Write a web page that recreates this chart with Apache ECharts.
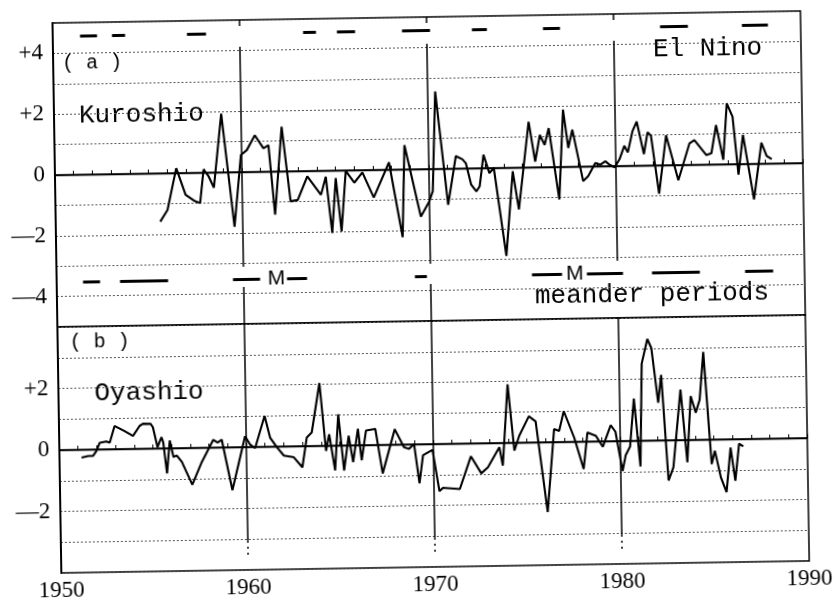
<!DOCTYPE html>
<html><head><meta charset="utf-8">
<script src="https://cdn.jsdelivr.net/npm/echarts@6/dist/echarts.min.js"></script>
<style>html,body{margin:0;padding:0;background:#fff;overflow:hidden}#c{width:836px;height:604px;transform:rotate(-0.92deg);transform-origin:430px 300px}</style>
</head><body><div id="c"></div>
<script>
// ---- data ----
const kuroshio = [
 [1955.59,-1.59],[1955.99,-1.21],[1956.49,0.16],[1956.97,-0.72],[1957.42,-0.92],[1957.74,-1.0],
 [1957.95,0.1],[1958.22,-0.13],[1958.49,-0.5],[1958.94,1.93],[1959.56,-1.8],[1959.96,0.56],
 [1960.28,0.72],[1960.72,1.2],[1961.17,0.77],[1961.44,0.87],[1961.74,-1.42],[1962.16,1.47],
 [1962.58,-0.99],[1962.96,-0.95],[1963.49,-0.18],[1964.21,-0.79],[1964.48,-0.2],[1964.78,-2.05],
 [1965.01,-0.25],[1965.28,-2.0],[1965.55,-0.02],[1966.0,-0.41],[1966.44,-0.08],[1967.03,-0.91],
 [1967.87,0.24],[1968.54,-2.23],[1968.71,0.8],[1969.53,-1.56],[1970.0,-1.06],[1970.19,-0.73],
 [1970.4,2.55],[1971.0,-1.19],[1971.45,0.41],[1971.8,0.3],[1971.98,0.17],[1972.25,-0.54],
 [1972.52,-0.76],[1972.7,-0.6],[1972.93,0.44],[1973.23,-0.17],[1973.47,0.0],[1974.07,-2.9],
 [1974.48,-0.12],[1974.78,-1.38],[1975.37,1.5],[1975.69,0.19],[1975.96,1.06],[1976.21,0.73],
 [1976.44,1.28],[1976.95,-1.07],[1977.22,1.88],[1977.47,0.62],[1977.7,1.22],[1978.24,-0.48],
 [1978.51,-0.32],[1978.9,0.11],[1979.18,0.05],[1979.44,0.16],[1979.67,0.04],[1979.94,-0.04],
 [1980.2,0.22],[1980.47,0.66],[1980.65,0.44],[1980.92,1.14],[1981.15,1.45],[1981.51,0.38],
 [1981.72,1.09],[1981.9,0.98],[1982.29,-0.93],[1982.71,0.98],[1983.33,-0.5],[1983.95,0.7],
 [1984.22,0.81],[1984.85,0.31],[1985.12,0.37],[1985.39,1.29],[1985.75,0.15],[1985.98,2.0],
 [1986.28,1.56],[1986.55,-0.35],[1986.82,0.96],[1987.36,-1.17],[1987.8,0.69],[1988.07,0.25],
 [1988.34,0.14]
];
const oyashio = [
 [1951.18,-0.26],[1951.54,-0.21],[1951.8,-0.21],[1951.98,-0.05],[1952.16,0.21],[1952.52,0.25],
 [1952.7,0.21],[1952.97,0.75],[1953.5,0.58],[1953.95,0.42],[1954.31,0.74],[1954.49,0.81],
 [1954.9,0.8],[1955.02,0.69],[1955.25,0.04],[1955.47,0.36],[1955.56,0.2],[1955.74,-0.82],
 [1955.91,0.25],[1956.1,-0.29],[1956.27,-0.24],[1956.54,-0.45],[1957.08,-1.2],[1957.61,-0.46],
 [1958.24,0.25],[1958.47,0.16],[1958.69,0.25],[1959.22,-1.4],[1959.94,0.35],[1960.2,0.08],
 [1960.47,-0.04],[1961.0,1.0],[1961.28,0.29],[1961.64,-0.03],[1962.0,-0.3],[1962.53,-0.36],
 [1962.98,-0.69],[1963.24,0.28],[1963.51,0.44],[1963.96,2.04],[1964.26,-0.17],[1964.44,0.37],
 [1964.73,-0.81],[1964.94,1.01],[1965.21,-0.82],[1965.48,0.31],[1965.7,-0.55],[1965.98,0.53],
 [1966.16,-0.49],[1966.41,0.47],[1966.91,0.52],[1967.27,-0.93],[1967.95,0.5],[1968.43,-0.09],
 [1968.7,-0.15],[1968.97,0.01],[1969.23,-1.27],[1969.44,-0.36],[1969.95,-0.19],[1970.29,-1.54],
 [1970.48,-1.43],[1971.38,-1.48],[1972.0,-0.42],[1972.54,-0.98],[1972.9,-0.79],[1973.53,-0.14],
 [1973.7,-0.74],[1974.02,1.9],[1974.33,-0.26],[1974.6,0.22],[1975.13,0.85],[1975.49,0.68],
 [1976.06,-2.27],[1976.47,0.42],[1976.74,0.36],[1977.0,1.0],[1977.54,0.13],[1978.02,-0.89],
 [1978.25,0.29],[1978.7,0.18],[1979.06,-0.18],[1979.5,0.52],[1979.75,0.3],[1980.1,-0.98],
 [1980.28,-0.46],[1980.52,-0.19],[1980.76,1.37],[1980.85,0.72],[1981.06,-0.84],[1981.21,2.5],
 [1981.53,3.3],[1981.74,3.0],[1982.06,1.22],[1982.24,2.13],[1982.55,-1.31],[1982.82,-0.88],
 [1983.26,1.64],[1983.57,-0.73],[1983.8,1.42],[1984.06,0.88],[1984.28,1.3],[1984.51,2.85],
 [1984.87,-0.8],[1985.05,-0.37],[1985.35,-1.24],[1985.64,-1.72],[1985.89,-0.27],[1986.12,-1.35],
 [1986.35,-0.15],[1986.57,-0.24]
];
const elNinoPeriods = [
 [1951.46,1952.37],[1953.17,1953.87],[1957.18,1958.2],[1963.39,1964.08],[1965.2,1966.17],
 [1968.68,1970.18],[1972.42,1973.22],[1976.22,1977.13],[1982.48,1983.97],[1986.86,1988.25]
];
const meanderPeriods = [
 [1951.41,1952.32],[1953.39,1955.96],[1959.43,1960.88],[1962.32,1963.39],[1969.16,1969.8],
 [1975.42,1977.03],[1978.36,1980.29],[1981.84,1984.4],[1986.82,1988.32]
];
const meanderMarks = [1961.75, 1977.72];
const elNinoLevel = 4.55;
const meanderLevel = -3.52;
const decadeYears = [1960, 1970, 1980];
const xTickLabels = [1950, 1960, 1970, 1980, 1990];
const yLabelsA = [-4, -2, 0, 2, 4];
const yLabelsB = [-2, 0, 2];

// ---- chart ----
const serif = '"Liberation Serif", serif';
const mono = '"Liberation Mono", monospace';
const fmtY = list => v => list.indexOf(v) < 0 ? '' : (v > 0 ? '+' + v : (v < 0 ? '\u2014' + (-v) : '0'));
const seg = (x1, y1, x2, y2) => ({ coords: [[x1, y1], [x2, y2]] });

const xBase = i => ({
  gridIndex: i, type: 'value', min: 1950, max: 1990, interval: 1,
  axisLine: { lineStyle: { color: '#000', width: 1.5 } },
  axisTick: { inside: true, length: 4, lineStyle: { color: '#000', width: 1 } },
  splitLine: { show: false }
});
const yBase = (i, lo, hi, labels) => ({
  gridIndex: i, type: 'value', min: lo, max: hi, interval: 1,
  axisLine: { show: true, lineStyle: { color: '#000', width: 2 } },
  axisTick: { show: false },
  axisLabel: { formatter: fmtY(labels), fontFamily: serif, fontSize: 23, color: '#000', margin: 10 },
  splitLine: { show: true, lineStyle: { color: '#555', width: 1, type: [2, 2] } }
});

const decadeA = [], decadeB = [], decadeBDot = [];
decadeYears.forEach(y => {
  decadeA.push(seg(y, 5, y, 4.8));
  decadeA.push(seg(y, 4.12, y, -3.12));
  if (y < 1980) decadeA.push(seg(y, -3.78, y, -5));
  decadeB.push(seg(y, 4, y, -3.05));
  decadeBDot.push(seg(y, -3.05, y, -3.6));
});

const option = {
  animation: false,
  backgroundColor: '#fff',
  grid: [
    { left: 57, right: 31, top: 17, height: 304, show: true, borderColor: '#000', borderWidth: 1.5, backgroundColor: 'transparent' },
    { left: 57, right: 31, top: 321, height: 246, show: true, borderColor: '#000', borderWidth: 1.5, backgroundColor: 'transparent' }
  ],
  xAxis: [
    Object.assign(xBase(0), { axisLabel: { show: false } }),
    Object.assign(xBase(1), { axisLabel: { formatter: v => xTickLabels.indexOf(v) >= 0 ? String(v) : '', fontFamily: serif, fontSize: 23, color: '#000', margin: 6 } })
  ],
  yAxis: [ yBase(0, -5, 5, yLabelsA), yBase(1, -4, 4, yLabelsB) ],
  series: [
    { type: 'lines', coordinateSystem: 'cartesian2d', xAxisIndex: 0, yAxisIndex: 0, silent: true,
      lineStyle: { color: '#000', width: 1.3, opacity: 1 }, data: [seg(1950, 0, 1990, 0)] },
    { type: 'lines', coordinateSystem: 'cartesian2d', xAxisIndex: 1, yAxisIndex: 1, silent: true,
      lineStyle: { color: '#000', width: 1.3, opacity: 1 }, data: [seg(1950, 0, 1990, 0)] },
    { type: 'lines', coordinateSystem: 'cartesian2d', xAxisIndex: 0, yAxisIndex: 0, silent: true,
      lineStyle: { color: '#000', width: 1.5, opacity: 1 }, data: decadeA },
    { type: 'lines', coordinateSystem: 'cartesian2d', xAxisIndex: 1, yAxisIndex: 1, silent: true,
      lineStyle: { color: '#000', width: 1.5, opacity: 1 }, data: decadeB },
    { type: 'lines', coordinateSystem: 'cartesian2d', xAxisIndex: 1, yAxisIndex: 1, silent: true,
      lineStyle: { color: '#000', width: 1.5, opacity: 1, type: [2, 4] }, data: decadeBDot },
    { type: 'lines', coordinateSystem: 'cartesian2d', xAxisIndex: 0, yAxisIndex: 0, silent: true,
      lineStyle: { color: '#000', width: 3.2, opacity: 1 },
      data: elNinoPeriods.map(p => seg(p[0], elNinoLevel, p[1], elNinoLevel)) },
    { type: 'lines', coordinateSystem: 'cartesian2d', xAxisIndex: 0, yAxisIndex: 0, silent: true,
      lineStyle: { color: '#000', width: 3.2, opacity: 1 },
      data: meanderPeriods.map(p => seg(p[0], meanderLevel, p[1], meanderLevel)) },
    { type: 'scatter', xAxisIndex: 0, yAxisIndex: 0, silent: true, symbolSize: 1,
      itemStyle: { color: '#fff', opacity: 1 },
      label: { show: true, position: 'inside', formatter: 'M', fontFamily: '"Liberation Sans", sans-serif', fontSize: 21, color: '#000', opacity: 1 },
      data: meanderMarks.map(x => [x, meanderLevel]) },
    { name: 'Kuroshio', type: 'line', xAxisIndex: 0, yAxisIndex: 0, data: kuroshio, showSymbol: false, symbol: 'none',
      lineStyle: { color: '#000', width: 2.1 }, z: 5 },
    { name: 'Oyashio', type: 'line', xAxisIndex: 1, yAxisIndex: 1, data: oyashio, showSymbol: false, symbol: 'none',
      lineStyle: { color: '#000', width: 2.1 }, z: 5 }
  ],
  graphic: [
    { type: 'text', x: 66, y: 58, style: { text: '( a )', font: '20px ' + mono, fill: '#000', verticalAlign: 'middle' } },
    { type: 'text', x: 82, y: 110, style: { text: 'Kuroshio', font: '26px ' + mono, fill: '#000', verticalAlign: 'middle' } },
    { type: 'text', x: 657, y: 53, style: { text: 'El Nino', font: '26px ' + mono, fill: '#000', verticalAlign: 'middle' } },
    { type: 'text', x: 535, y: 298, style: { text: 'meander periods', font: '26px ' + mono, fill: '#000', verticalAlign: 'middle' } },
    { type: 'text', x: 69, y: 337, style: { text: '( b )', font: '20px ' + mono, fill: '#000', verticalAlign: 'middle' } },
    { type: 'text', x: 93, y: 388, style: { text: 'Oyashio', font: '26px ' + mono, fill: '#000', verticalAlign: 'middle' } }
  ]
};
const chart = echarts.init(document.getElementById('c'), null, { renderer: 'canvas' });
chart.setOption(option);
</script></body></html>
